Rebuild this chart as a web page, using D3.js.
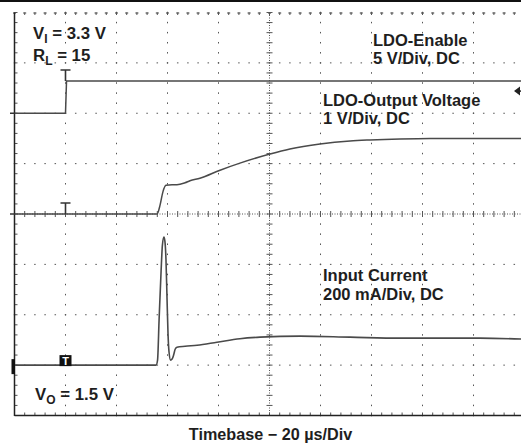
<!DOCTYPE html>
<html><head><meta charset="utf-8">
<script src="https://cdn.jsdelivr.net/npm/d3@7"></script>
<style>body{margin:0;background:#fff}svg{display:block}</style>
</head><body>
<svg id="c" width="521" height="444"></svg>
<script>
// ---- data (time in µs, trigger at 0) ----
const enableT = [-20, 0, 0.4, 180];
const enableV = [0, 0, 3.2, 3.2];              // V (5 V/div)
const outT = [-20, 35.9, 37.1, 38.2, 39.4, 41.8, 43.7, 46.9, 48.8, 52.7, 60.6, 68.4, 80.2, 88.0, 99.8, 111.6, 119.4, 131.2, 143.0, 180];
const outV = [0, 0, 0.18, 0.44, 0.57, 0.58, 0.58, 0.62, 0.66, 0.71, 0.87, 1.01, 1.19, 1.29, 1.39, 1.45, 1.47, 1.49, 1.50, 1.50]; // V (1 V/div)
const curT = [-20, 35.5, 36.1, 36.7, 37.5, 38.0, 38.6, 39.0, 39.4, 39.8, 40.2, 40.6, 41.2, 41.8, 42.4, 43.0, 43.7, 46.9, 51.6, 59.4, 68.4, 76.3, 92.0, 111.6, 131.2, 162.5, 180];
const curI = [0, 0, 20, 179, 377, 476, 508, 490, 420, 270, 125, 52, 20, 24, 40, 63, 71, 75, 79, 91, 105, 111, 115, 111, 107, 107, 103]; // mA (200 mA/div)
const trigLevel = 2.2; // V on enable channel
const xMajor = d3.range(-20, 181, 20);
const yMajor = d3.range(-4, 5, 1);

const svg = d3.select('#c');
const L = 14.5, R = 524.5, T = 12.5, B = 415.5;
const x = d3.scaleLinear().domain([-20, 180]).range([L, R]);
const yDiv = d3.scaleLinear().domain([4, -4]).range([T, B]);
const yEn = d3.scaleLinear().domain([0, 5]).range([yDiv(2), yDiv(3)]);
const yOut = d3.scaleLinear().domain([0, 1]).range([yDiv(0), yDiv(1)]);
const yCur = d3.scaleLinear().domain([0, 200]).range([yDiv(-3), yDiv(-2)]);
const minorX = d3.range(0, 51).map(i => -20 + i * 4);
const minorY = d3.range(0, 41).map(i => -4 + i * 0.2);

// top black bar
svg.append('rect').attr('x', 0).attr('y', 0).attr('width', 521).attr('height', 2).attr('fill', '#111');

const g = svg.append('g');
const gc = '#555';
// dotted major grid lines
xMajor.filter(t => t !== -20 && t !== 80).forEach(t => {
  g.selectAll(null).data(minorY).enter().append('rect')
    .attr('x', x(t) - 0.5).attr('y', d => yDiv(d) - 0.75).attr('width', 1).attr('height', 1.5).attr('fill', gc);
});
yMajor.filter(d => d !== 4 && d !== -4 && d !== 0).forEach(d0 => {
  g.selectAll(null).data(minorX).enter().append('rect')
    .attr('x', d => x(d) - 0.75).attr('y', yDiv(d0) - 0.5).attr('width', 1.5).attr('height', 1).attr('fill', gc);
});
// center crosshair
g.append('line').attr('x1', x(80)).attr('x2', x(80)).attr('y1', T).attr('y2', B)
  .attr('stroke', gc).attr('stroke-width', 1).attr('stroke-dasharray', '1,1.5');
g.append('line').attr('x1', L).attr('x2', 521).attr('y1', yDiv(0)).attr('y2', yDiv(0))
  .attr('stroke', gc).attr('stroke-width', 1).attr('stroke-dasharray', '1,1.5');
g.selectAll(null).data(minorY).enter().append('line')
  .attr('x1', x(80) - 3).attr('x2', x(80) + 3).attr('y1', d => yDiv(d)).attr('y2', d => yDiv(d))
  .attr('stroke', gc).attr('stroke-width', 1);
g.selectAll(null).data(minorX).enter().append('line')
  .attr('x1', d => x(d)).attr('x2', d => x(d)).attr('y1', yDiv(0) - 3).attr('y2', yDiv(0) + 3)
  .attr('stroke', gc).attr('stroke-width', 1);
// border ticks
g.selectAll(null).data(minorY).enter().append('line')
  .attr('x1', L).attr('x2', L + 3).attr('y1', d => yDiv(d)).attr('y2', d => yDiv(d))
  .attr('stroke', gc).attr('stroke-width', 1);
g.selectAll(null).data(minorX).enter().append('line')
  .attr('x1', d => x(d)).attr('x2', d => x(d)).attr('y1', B).attr('y2', B - 3)
  .attr('stroke', gc).attr('stroke-width', 1);
g.selectAll(null).data(minorX).enter().append('line')
  .attr('x1', d => x(d) - 1.5).attr('x2', d => x(d) + 1.5).attr('y1', T + 0.5).attr('y2', T + 0.5)
  .attr('stroke', gc).attr('stroke-width', 1.2);
g.selectAll(null).data(minorX).enter().append('line')
  .attr('x1', d => x(d)).attr('x2', d => x(d)).attr('y1', T).attr('y2', T + 2.5)
  .attr('stroke', gc).attr('stroke-width', 1);
// solid borders
g.append('line').attr('x1', L).attr('x2', L).attr('y1', T).attr('y2', B + 0.5).attr('stroke', '#222').attr('stroke-width', 1.5);
g.append('line').attr('x1', L).attr('x2', 521).attr('y1', B).attr('y2', B).attr('stroke', '#222').attr('stroke-width', 1.5);

// traces
const tc = '#4a4a4a';
const lineEn = d3.line().x((d, i) => x(enableT[i])).y(d => yEn(d));
const lineOut = d3.line().x((d, i) => x(outT[i])).y(d => yOut(d)).curve(d3.curveMonotoneX);
const lineCur = d3.line().x((d, i) => x(curT[i])).y(d => yCur(d)).curve(d3.curveMonotoneX);
svg.append('path').attr('d', lineEn(enableV)).attr('fill', 'none').attr('stroke', tc).attr('stroke-width', 1.5);
svg.append('path').attr('d', lineOut(outV)).attr('fill', 'none').attr('stroke', tc).attr('stroke-width', 1.5);
svg.append('path').attr('d', lineCur(curI)).attr('fill', 'none').attr('stroke', tc).attr('stroke-width', 1.6);

// trigger markers
const tx = x(0);
[yEn(enableV[2]), yOut(0)].forEach(yb => {
  svg.append('path').attr('d', `M${tx - 5},${yb - 11}H${tx + 5}M${tx},${yb - 11}V${yb}`)
    .attr('fill', 'none').attr('stroke', '#333').attr('stroke-width', 1.6);
});
svg.append('rect').attr('x', tx - 6).attr('y', yCur(0) - 10).attr('width', 12).attr('height', 11).attr('fill', '#111');
svg.append('text').attr('x', tx).attr('y', yCur(0) - 0.5).attr('text-anchor', 'middle')
  .attr('font-family', 'Liberation Sans, Arial, sans-serif').attr('font-weight', 'bold').attr('font-size', 11)
  .attr('fill', '#fff').text('T');
// ground markers on left
[yEn(0), yOut(0)].forEach(yb => {
  svg.append('line').attr('x1', 10).attr('x2', L).attr('y1', yb).attr('y2', yb).attr('stroke', '#333').attr('stroke-width', 1.5);
});
svg.append('rect').attr('x', 11.5).attr('y', yCur(0) - 6).attr('width', 3.5).attr('height', 15).attr('fill', '#111');
// trigger level arrow at right
const ya = yEn(trigLevel);
svg.append('path').attr('d', `M514,${ya}L520,${ya - 4.5}L520,${ya + 4.5}Z`).attr('fill', '#222');
svg.append('line').attr('x1', 518).attr('x2', 521).attr('y1', ya).attr('y2', ya).attr('stroke', '#222').attr('stroke-width', 1.5);

// texts
const ff = 'Liberation Sans, Arial, sans-serif';
function label(xp, yp, parts, size) {
  const t = svg.append('text').attr('x', xp).attr('y', yp).attr('font-family', ff)
    .attr('font-weight', 'bold').attr('font-size', size || 16.5).attr('fill', '#1e1e1e');
  parts.forEach(p => {
    const s = t.append('tspan').text(p.t);
    if (p.sub) s.attr('dy', 4).attr('font-size', 12);
    if (p.back) s.attr('dy', -4);
  });
  return t;
}
label(33, 38.5, [{t: 'V'}, {t: 'I', sub: true}, {t: ' = 3.3 V', back: true}], 16.8);
label(33, 61, [{t: 'R'}, {t: 'L', sub: true}, {t: ' = 15', back: true}], 16.8);
label(35, 400, [{t: 'V'}, {t: 'O', sub: true}, {t: ' = 1.5 V', back: true}], 16.8);
label(373, 45.5, [{t: 'LDO-Enable'}]);
label(373, 64, [{t: '5 V/Div, DC'}]);
label(323, 105.5, [{t: 'LDO-Output Voltage'}], 16.5);
label(323, 123.5, [{t: '1 V/Div, DC'}], 16.5);
label(323, 281, [{t: 'Input Current'}]);
label(323, 300, [{t: '200 mA/Div, DC'}]);
svg.append('text').attr('x', 270.5).attr('y', 440).attr('text-anchor', 'middle')
  .attr('font-family', ff).attr('font-weight', 'bold').attr('font-size', 16.2).attr('fill', '#1e1e1e')
  .text('Timebase \u2212 20 \u00b5s/Div');
</script>
</body></html>
